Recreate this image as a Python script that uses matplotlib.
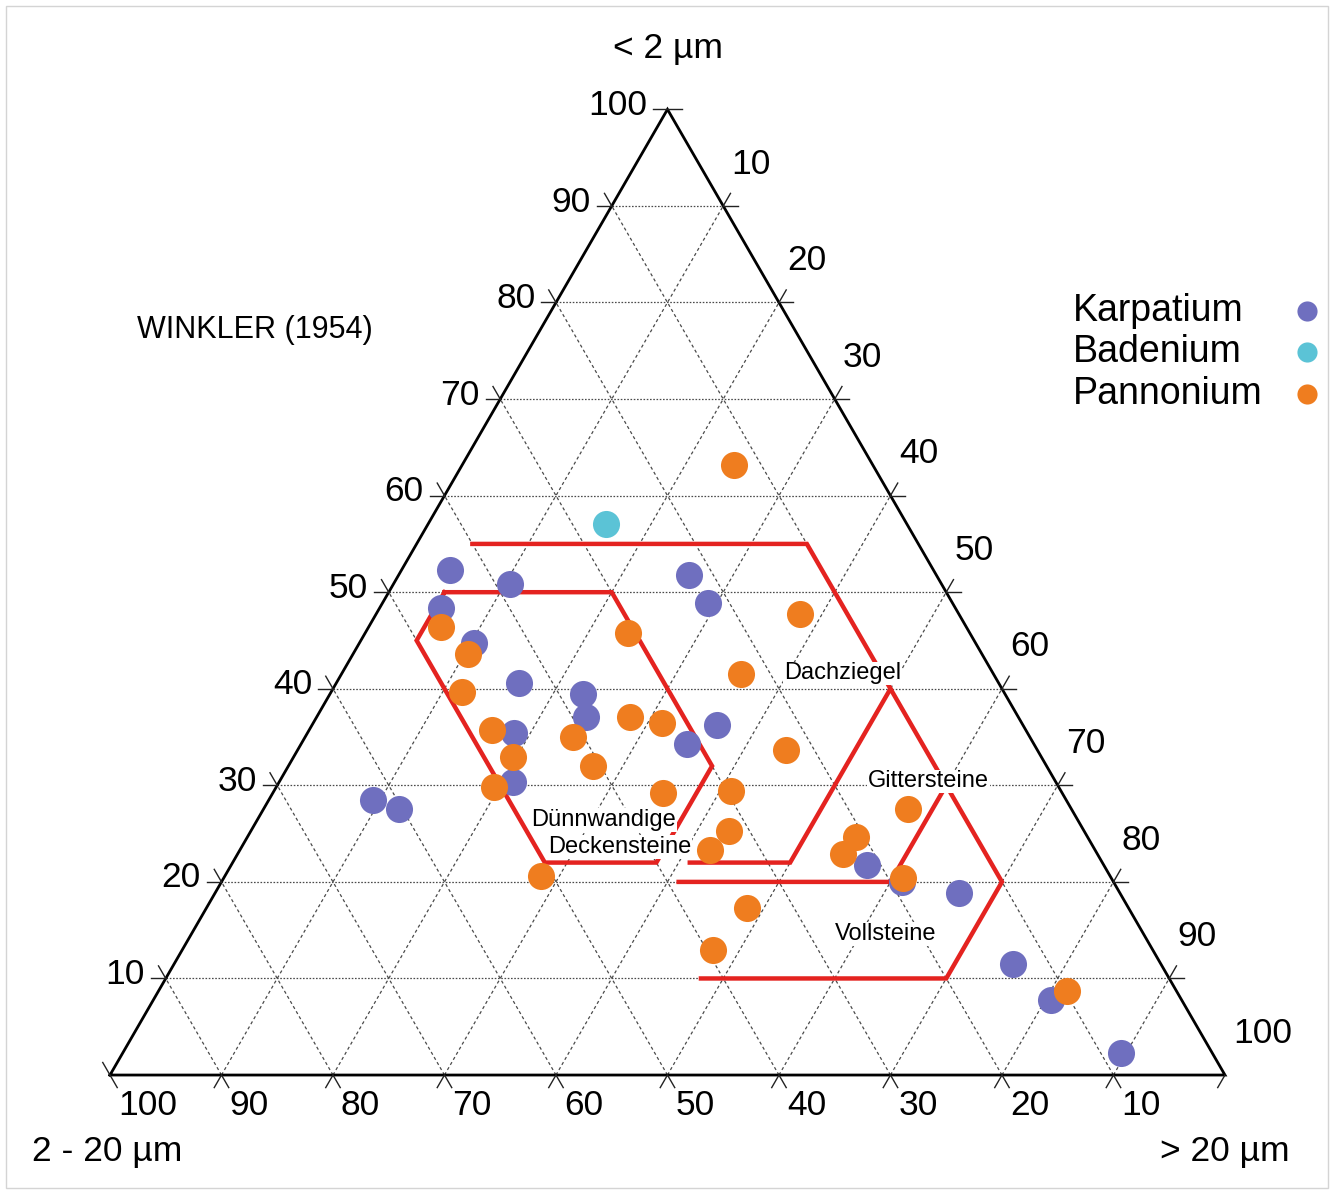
import numpy as np
import matplotlib.pyplot as plt
from matplotlib.patches import Rectangle

plt.rcParams['font.family'] = ['Liberation Sans', 'DejaVu Sans']

# grain size composition in percent: clay (< 2 µm) and sand (> 20 µm), silt is the rest
karpatium_clay = [52.3, 50.9, 48.4, 44.7, 40.6, 39.5, 37.1, 35.4, 34.3, 36.2, 51.8,
                  48.9, 30.3, 28.5, 27.6, 21.8, 20.0, 18.9, 11.5, 7.8, 2.3]
karpatium_sand = [4.3, 10.4, 5.5, 10.3, 16.4, 22.7, 24.1, 18.5, 34.6, 36.3, 26.0,
                  29.2, 21.0, 9.3, 12.1, 57.0, 61.0, 66.7, 75.2, 80.5, 89.5]

badenium_clay = [57.1]
badenium_sand = [15.9]

pannonium_clay = [63.2, 47.7, 45.8, 41.5, 46.4, 43.6, 39.7, 35.7, 32.9, 29.8, 35.0,
                  32.0, 37.1, 36.5, 33.7, 29.2, 29.4, 25.3, 23.3, 20.6, 24.7, 22.9,
                  27.5, 20.4, 17.3, 12.9, 8.7]
pannonium_sand = [24.4, 38.0, 23.6, 35.8, 6.5, 10.3, 11.7, 16.4, 19.7, 19.5, 24.0,
                  27.3, 28.1, 31.3, 43.8, 35.0, 41.0, 42.9, 42.2, 28.4, 54.6, 54.3,
                  57.8, 60.9, 48.5, 47.6, 81.5]

series_names = ['Karpatium', 'Badenium', 'Pannonium']
series_colors = ['#6F6FBF', '#5BC3D6', '#EF7D1F']

# Winkler (1954) fields, vertices as (clay, sand)
field_dachziegel = [(55, 5), (55, 35), (40, 50)]
field_duennwandig = [(50, 5), (50, 20), (32, 38), (22, 38), (22, 28), (45, 5), (50, 5)]
field_gitter = [(22, 41), (22, 50), (40, 50), (20, 70), (10, 70), (10, 48)]
field_voll = [(20, 41), (20, 60), (30, 60)]

field_labels = ['Dachziegel', 'Gittersteine', 'Vollsteine', 'Dünnwandige', 'Deckensteine']
field_label_pos = [(41.6, 44.9), (30.4, 58.2), (14.6, 62.3), (26.4, 31.1), (23.6, 33.9)]

tick_values = [10, 20, 30, 40, 50, 60, 70, 80, 90]
H = np.sqrt(3) / 2


def tern(clay, sand):
    clay = np.asarray(clay, float)
    sand = np.asarray(sand, float)
    return sand + clay / 2, clay * H


fig = plt.figure(figsize=(13.3, 11.91), dpi=100)
ax = fig.add_axes([0, 0, 1, 1])
ax.set_xlim(-9.865, 109.42)
ax.set_ylim(-10.40, 96.41)
ax.axis('off')

fig.patches.append(Rectangle((6 / 1330, 3 / 1191), 1322 / 1330, 1182 / 1191,
                             transform=fig.transFigure, fill=False,
                             edgecolor='#d4d4d4', lw=1))

# grid
grid_col = '#4a4a4a'
for v in tick_values:
    x, y = tern([v, v], [0, 100 - v])
    ax.plot(x, y, color=grid_col, lw=0.9, ls=(0, (1.3, 1.3)), zorder=1)
    x, y = tern([0, 100 - v], [v, v])
    ax.plot(x, y, color=grid_col, lw=0.9, ls=(0, (2.5, 2.2)), zorder=1)
    x, y = tern([0, 100 - v], [100 - v, 0])
    ax.plot(x, y, color=grid_col, lw=0.9, ls=(0, (2.5, 2.2)), zorder=1)

# triangle outline
x, y = tern([0, 0, 100, 0], [0, 100, 0, 0])
ax.plot(x, y, color='black', lw=2.0, zorder=3, solid_joinstyle='miter')

# ticks and labels
L = 1.3
tk = dict(color='#222222', lw=1.0, zorder=3)
for v in tick_values + [100]:
    # left axis: clay
    px, py = tern(v, 0)
    if v < 100:
        ax.plot([px, px - L], [py, py], **tk)
        ax.plot([px, px - L * 0.5], [py, py + L * H], **tk)
    else:
        ax.plot([px - L, px + L], [py, py], **tk)
    ax.text(px - 1.85, py + 0.35, str(v), ha='right', va='center', fontsize=25.5)
    # right axis: sand
    px, py = tern(100 - v, v)
    if v < 100:
        ax.plot([px, px + L], [py, py], **tk)
        ax.plot([px, px + L * 0.5], [py, py + L * H], **tk)
    else:
        ax.plot([px, px - L * 0.5], [py, py - L * H], **tk)
    ax.text(px + 0.75, py + 3.75, str(v), ha='left', va='center', fontsize=25.5)
    # bottom axis: silt
    px, py = tern(0, 100 - v)
    if v < 100:
        ax.plot([px, px - L * 0.5], [py, py - L * H], **tk)
        ax.plot([px, px + L * 0.5], [py, py - L * H], **tk)
    else:
        ax.plot([px - L * 0.5, px + L * 0.5], [py + L * H, py - L * H], **tk)
    ax.text(px + 0.7, py - 2.7, str(v), ha='left', va='center', fontsize=25.5)

ax.text(50.04, 92.1, '< 2 µm', ha='center', va='center', fontsize=25.5)
ax.text(-0.27, -6.9, '2 - 20 µm', ha='center', va='center', fontsize=25.5)
ax.text(100.0, -6.9, '> 20 µm', ha='center', va='center', fontsize=25.5)
ax.text(13.0, 66.8, 'WINKLER (1954)', ha='center', va='center', fontsize=22)

# field boundaries
for field in [field_dachziegel, field_duennwandig, field_gitter, field_voll]:
    c, s = zip(*field)
    x, y = tern(c, s)
    ax.plot(x, y, color='#E42320', lw=3.2, zorder=4, solid_joinstyle='miter')

for name, (c, s) in zip(field_labels, field_label_pos):
    x, y = tern(c, s)
    ax.text(x, y, name, ha='center', va='center', fontsize=17, zorder=5,
            bbox=dict(facecolor='white', edgecolor='none', pad=0.5))

# samples
for cl, sa, col in [(karpatium_clay, karpatium_sand, series_colors[0]),
                    (badenium_clay, badenium_sand, series_colors[1]),
                    (pannonium_clay, pannonium_sand, series_colors[2])]:
    x, y = tern(cl, sa)
    ax.scatter(x, y, s=380, color=col, linewidths=0, zorder=6)

# legend, text on the left and marker on the right
leg_y = [68.52, 64.84, 61.08]
for name, col, yy in zip(series_names, series_colors, leg_y):
    ax.text(86.37, yy, name, ha='left', va='center', fontsize=27)
    ax.plot([107.35], [yy], 'o', ms=14.5, color=col, mec='none')

fig.savefig('out.png', dpi=100)
